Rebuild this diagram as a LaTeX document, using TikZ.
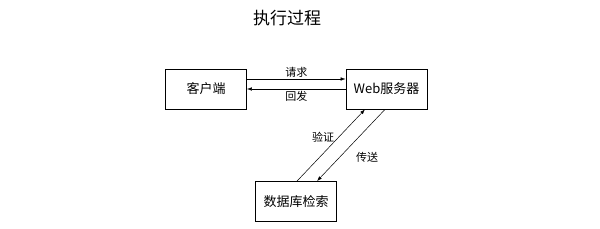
\documentclass[tikz,border=0pt]{standalone}
\usepackage{fontspec}
\setmainfont{Liberation Serif}
\newfontfamily\cjk{Noto Sans CJK SC}
\usetikzlibrary{arrows.meta}
\begin{document}
\begin{tikzpicture}[x=1pt,y=-1pt,
  box/.style={draw, line width=0.8pt, minimum width=81pt, minimum height=40pt, inner sep=0pt, font=\cjk\fontsize{13}{13}\selectfont},
  conn/.style={line width=0.5pt, -{Latex[length=5pt,width=3.5pt]}},
  lab/.style={font=\cjk\fontsize{11}{11}\selectfont, inner sep=1pt}]
\useasboundingbox (0,0) rectangle (600,229);
\node[font=\cjk\fontsize{17}{17}\selectfont] (title) at (287,18) {执行过程};
\node[box] (client) at (206,89) {客户端};
\node[box] (web) at (386.5,89) {Web服务器};
\node[box] (db) at (296,201.5) {数据库检索};
\draw[conn] ([yshift=10pt]client.east) -- node[lab, above] {请求} ([yshift=10pt]web.west);
\draw[conn] (web.west) -- node[lab, below=1pt] {回发} (client.east);
\draw[conn] ([xshift=1pt]db.north) -- ([xshift=-21.5pt]web.south);
\draw[conn] ([xshift=-1.5pt]web.south) -- ([xshift=21pt]db.north);
\node[lab] (lv) at (323,137) {验证};
\node[lab] (lc) at (367,157) {传送};
\end{tikzpicture}
\end{document}
